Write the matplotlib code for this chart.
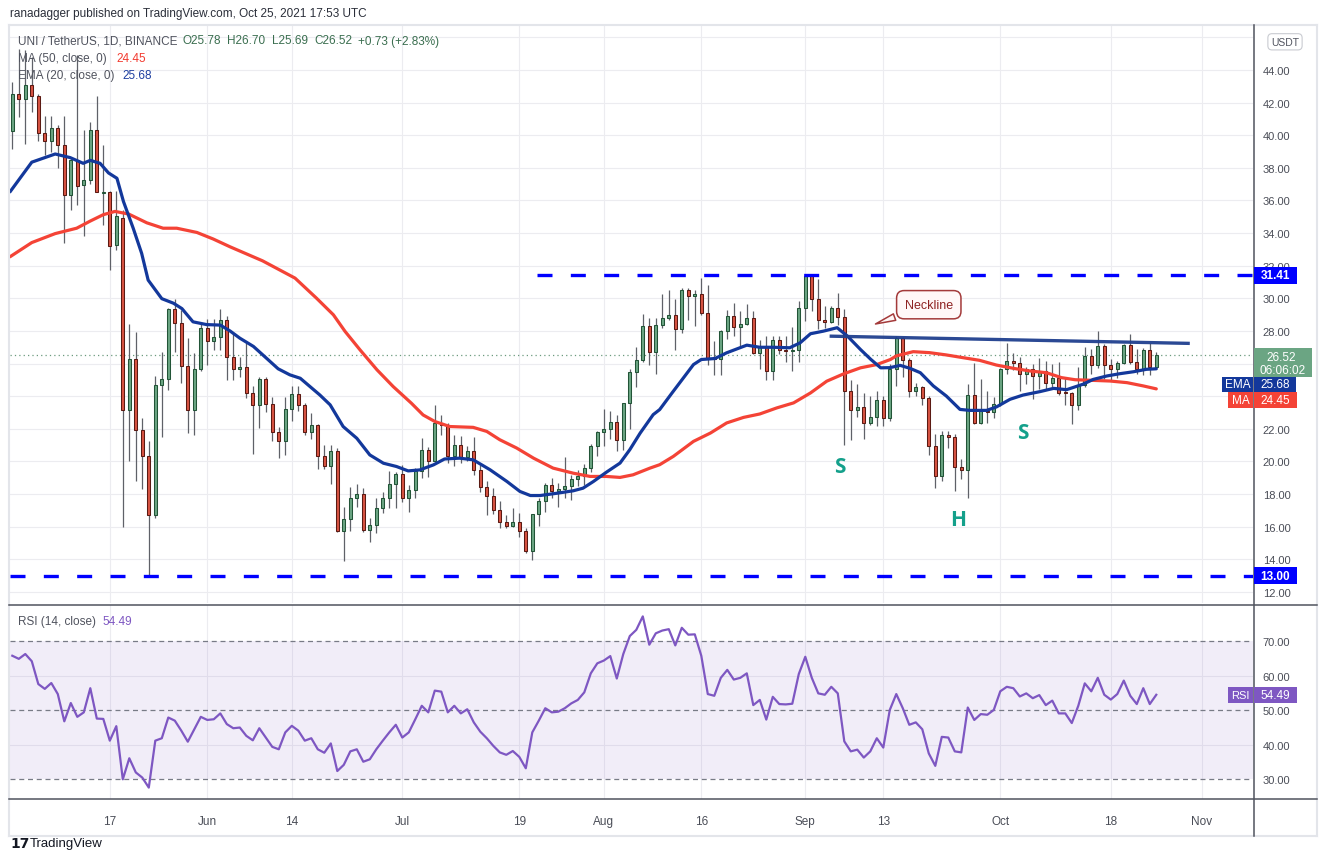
import matplotlib
matplotlib.use("Agg")
import matplotlib.pyplot as plt
import numpy as np
import pandas as pd
from matplotlib.patches import Rectangle
from matplotlib.lines import Line2D

plt.rcParams['font.family'] = ['Liberation Sans', 'DejaVu Sans']

# ---------------- data ----------------
start = pd.Timestamp('2021-05-02')
opens = [40.28, 42.55, 42.25, 43.06, 42.40, 40.14, 39.66, 40.47, 39.38, 36.36, 38.46, 36.95, 37.28, 40.34, 36.48, 36.53,
         33.25, 34.95, 23.13, 26.30, 21.95, 20.33, 16.72, 24.66, 25.06, 29.37, 28.50, 25.87, 23.17, 25.69,
         28.21, 27.40, 27.60, 28.65, 26.43, 25.64, 25.82, 24.22, 23.43, 25.08, 23.55, 21.83, 21.26, 23.24,
         24.16, 23.43, 21.83, 22.22, 20.36, 19.75, 20.67, 15.76, 16.45, 17.78, 18.03, 15.80, 16.10, 17.13,
         17.74, 18.64, 19.26, 17.78, 18.23, 19.42, 20.71, 20.05, 22.38, 22.24, 20.36, 20.98, 20.25, 20.66,
         19.49, 18.46, 17.89, 17.03, 16.31, 16.07, 16.31, 15.76, 14.51, 16.76, 17.60, 18.57, 18.20, 18.28,
         18.52, 18.91, 19.08, 19.59, 20.92, 21.80, 21.99, 22.42, 21.33, 23.59, 25.47, 26.21, 28.30, 26.70,
         28.36, 28.81, 28.98, 28.14, 30.49, 30.14, 30.29, 29.08, 26.35, 26.31, 27.99, 28.91, 28.24, 28.40,
         28.77, 26.62, 27.05, 25.53, 27.44, 26.82, 26.76, 26.82, 29.39, 31.37, 29.94, 28.67, 28.55, 29.39,
         28.85, 24.30, 23.14, 23.32, 22.34, 22.70, 23.75, 22.64, 25.69, 27.55, 26.20, 24.32, 24.56, 23.87,
         20.94, 19.08, 21.62, 21.50, 19.66, 19.45, 24.07, 22.38, 23.09, 23.03, 23.50, 25.65, 26.16, 26.04,
         25.38, 25.65, 25.24, 25.55, 24.83, 25.10, 24.22, 24.20, 23.46, 24.67, 26.47, 25.91, 27.08, 25.91,
         25.65, 26.06, 27.14, 26.10, 25.65, 26.83, 25.78]
highs = [43.27, 45.30, 45.20, 44.80, 42.51, 41.20, 41.20, 40.65, 41.20, 38.57, 44.90, 40.32, 40.82, 42.40, 39.38, 36.60,
         36.60, 35.39, 28.45, 27.95, 22.69, 21.27, 25.21, 26.70, 29.40, 29.98, 29.26, 27.55, 26.63, 28.50,
         28.71, 28.71, 29.37, 28.90, 27.87, 26.43, 27.35, 24.65, 25.20, 25.20, 23.98, 22.10, 23.98, 24.65,
         24.65, 23.57, 22.96, 22.30, 21.00, 21.00, 20.85, 17.19, 18.46, 18.60, 18.36, 16.52, 17.74, 18.15,
         19.42, 19.38, 19.79, 18.56, 19.58, 21.46, 20.91, 23.43, 22.85, 22.34, 21.64, 21.54, 20.92, 21.48,
         19.80, 18.77, 18.40, 17.60, 16.72, 17.17, 16.82, 15.94, 16.80, 17.75, 18.67, 18.98, 18.67, 20.30,
         19.18, 19.49, 19.84, 21.07, 21.84, 23.22, 23.07, 22.87, 23.60, 25.64, 27.03, 29.02, 28.77, 28.81,
         30.25, 30.49, 29.94, 30.66, 30.61, 30.49, 31.27, 30.82, 27.38, 28.03, 29.26, 29.73, 29.22, 29.67,
         29.22, 27.42, 27.68, 27.68, 27.68, 27.68, 28.24, 29.84, 31.48, 31.42, 31.17, 29.53, 29.53, 30.35,
         29.32, 24.98, 24.75, 24.20, 24.00, 24.30, 24.00, 25.98, 27.69, 27.63, 26.36, 24.83, 24.63, 24.01,
         21.70, 21.87, 21.87, 21.66, 20.13, 24.77, 26.06, 25.03, 24.32, 23.95, 25.75, 27.28, 26.67, 26.40,
         25.79, 25.96, 26.36, 26.16, 25.96, 26.12, 25.14, 24.25, 25.79, 27.02, 26.88, 28.00, 27.20, 26.26,
         26.16, 27.18, 27.80, 26.88, 26.98, 27.28, 26.70]
lows = [39.16, 41.09, 39.44, 41.41, 39.66, 38.79, 39.00, 38.02, 33.42, 35.39, 35.72, 33.85, 37.00, 36.49, 34.52, 31.74,
        32.94, 16.01, 20.00, 18.82, 18.31, 13.00, 16.52, 21.49, 24.40, 26.74, 24.82, 21.75, 21.64, 25.54,
        25.93, 26.85, 26.85, 24.99, 25.00, 25.20, 23.92, 20.46, 22.04, 23.02, 21.26, 20.24, 20.40, 22.49,
        23.10, 21.63, 21.38, 19.54, 19.54, 18.62, 15.70, 13.90, 15.76, 17.23, 15.70, 15.08, 15.60, 16.82,
        17.13, 17.13, 17.54, 16.92, 17.78, 18.97, 19.07, 20.03, 21.63, 19.89, 19.75, 19.90, 20.00, 19.18,
        18.11, 16.72, 16.76, 15.90, 15.94, 16.00, 15.39, 14.41, 13.96, 16.07, 16.89, 17.75, 17.23, 17.75,
        17.64, 18.52, 18.57, 19.34, 20.31, 20.92, 21.39, 20.61, 20.72, 22.00, 24.55, 26.10, 25.94, 25.37,
        28.16, 28.70, 26.86, 27.85, 28.67, 28.30, 28.98, 25.94, 25.33, 25.29, 27.48, 27.68, 27.07, 28.36,
        26.60, 25.64, 25.02, 25.02, 26.60, 26.10, 25.53, 26.10, 28.60, 29.22, 28.10, 28.16, 28.50, 28.36,
        20.98, 21.33, 22.70, 21.39, 22.21, 22.15, 22.15, 22.48, 24.63, 25.18, 23.95, 24.01, 23.46, 20.39,
        18.35, 18.80, 20.84, 18.18, 18.90, 17.78, 22.27, 22.31, 22.38, 22.64, 23.40, 25.34, 25.59, 24.32,
        24.73, 23.81, 24.42, 24.42, 24.52, 24.07, 23.46, 22.27, 23.13, 24.56, 25.34, 25.75, 25.03, 24.93,
        25.14, 25.96, 25.96, 25.34, 25.30, 25.30, 25.69]
closes = [42.55, 42.25, 43.06, 42.40, 40.14, 39.66, 40.47, 39.38, 36.36, 38.46, 36.86, 37.28, 40.34, 36.53, 36.53, 33.20,
          35.02, 23.17, 26.30, 21.95, 20.33, 16.72, 24.66, 25.06, 29.37, 28.50, 25.87, 23.17, 25.69, 28.21,
          27.40, 27.60, 28.65, 26.43, 25.64, 25.82, 24.22, 23.43, 25.08, 23.55, 21.83, 21.26, 23.24, 24.16,
          23.43, 21.83, 22.22, 20.36, 19.75, 20.67, 15.76, 16.45, 17.78, 18.03, 15.80, 16.10, 17.13, 17.74,
          18.64, 19.26, 17.78, 18.23, 19.42, 20.71, 20.05, 22.38, 22.24, 20.36, 20.98, 20.25, 20.66, 19.49,
          18.46, 17.89, 17.03, 16.31, 16.07, 16.31, 15.76, 14.51, 16.76, 17.60, 18.57, 18.20, 18.28, 18.52,
          18.91, 19.08, 19.59, 20.92, 21.80, 21.99, 22.42, 21.33, 23.59, 25.47, 26.21, 28.30, 26.70, 28.36,
          28.81, 28.98, 28.14, 30.49, 30.14, 30.29, 29.08, 26.35, 26.31, 27.99, 28.91, 28.24, 28.40, 28.77,
          26.62, 27.05, 25.53, 27.44, 26.82, 26.76, 26.82, 29.39, 31.37, 29.94, 28.67, 28.55, 29.39, 28.85,
          24.30, 23.14, 23.32, 22.34, 22.70, 23.75, 22.64, 25.69, 27.55, 26.20, 24.32, 24.56, 23.87, 20.94,
          19.08, 21.62, 21.50, 19.66, 19.45, 24.07, 22.38, 23.09, 23.03, 23.50, 25.65, 26.16, 26.04, 25.38,
          25.65, 25.24, 25.55, 24.83, 25.10, 24.22, 24.17, 23.46, 24.67, 26.47, 25.91, 27.08, 25.91, 25.65,
          26.06, 27.14, 26.10, 25.65, 26.83, 25.81, 26.52]

rsi_vals = [65.8, 64.9, 66.3, 64.2, 57.6, 56.2, 57.9, 54.7, 46.8, 52.1, 48.1, 49.4, 56.4, 47.6, 47.5, 41.2,
            45.4, 30.0, 36.1, 32.0, 30.5, 27.6, 41.2, 41.9, 47.9, 47.0, 44.1, 40.9, 44.5, 48.1,
            47.2, 47.4, 49.1, 46.0, 44.8, 45.0, 42.6, 41.3, 44.8, 42.1, 39.4, 38.7, 43.6, 45.5,
            44.1, 41.2, 41.9, 38.7, 37.7, 40.4, 32.4, 34.2, 38.1, 38.7, 35.1, 35.8, 38.7, 41.2,
            43.6, 45.8, 42.1, 43.6, 47.4, 51.3, 49.4, 55.7, 55.4, 49.4, 51.3, 49.1, 50.3, 46.5,
            43.8, 41.9, 39.7, 37.8, 37.1, 38.2, 36.5, 33.2, 43.6, 47.0, 50.6, 49.4, 49.6, 50.6,
            52.0, 53.0, 55.2, 60.7, 63.6, 64.4, 65.7, 59.2, 66.3, 71.5, 73.3, 77.2, 69.0, 72.3,
            73.1, 73.5, 68.8, 73.9, 71.9, 72.0, 65.8, 54.7, 54.2, 59.4, 61.7, 58.9, 59.4, 60.7,
            51.5, 53.0, 47.3, 53.9, 51.8, 51.7, 51.9, 60.5, 65.5, 59.4, 54.9, 54.5, 56.8, 54.9,
            41.0, 38.1, 38.6, 36.3, 38.1, 41.9, 39.2, 50.1, 54.7, 50.6, 45.8, 46.5, 44.5, 37.5,
            33.9, 42.3, 42.1, 38.1, 37.8, 50.8, 47.2, 48.9, 48.7, 50.1, 55.5, 56.8, 56.4, 54.0,
            54.9, 53.5, 54.4, 51.5, 52.8, 49.1, 49.1, 46.3, 51.3, 57.8, 55.5, 59.4, 54.5, 53.1,
            54.7, 58.6, 54.2, 51.8, 56.4, 51.8, 54.49]

# EMA 20 and MA 50 (day offset from 2 May 2021, value)
ema_days = [-0.35, 3.0, 6.6, 8.9, 10.9, 12.0, 13.5, 14.8, 16.1, 17.1, 18.6, 19.9, 20.9, 23.0, 24.8, 26.1, 27.8,
            29.9, 32.0, 33.5, 35.0, 37.1, 39.1, 40.9, 42.7, 44.3, 45.8, 47.3, 48.9, 50.9, 53.0, 55.0, 57.1,
            59.1, 60.9, 62.7, 64.8, 66.5, 68.8, 70.9, 73.5, 76.1, 78.1, 79.7, 81.2, 83.8, 86.3, 87.8, 89.4,
            91.4, 93.5, 95.0, 96.6, 98.6, 99.6, 101.5, 104.8, 106.0, 108.1, 109.9, 113.0, 115.0, 117.1,
            119.6, 121.2, 122.8, 124.8, 126.9, 128.5, 130.5, 132.1, 133.6, 135.0, 136.6, 138.1, 139.7,
            141.7, 143.7, 145.8, 147.3, 149.9, 151.4, 153.5, 155.5, 158.1, 160.2, 162.2, 164.7, 166.3,
            168.4, 170.4, 172.5, 174.5, 176.0]
ema_vals = [36.53, 38.35, 38.85, 38.63, 38.28, 38.46, 38.28, 37.69, 37.36, 35.94, 34.30, 32.76, 31.12, 29.98, 29.70,
            29.37, 28.56, 28.39, 28.36, 28.00, 27.56, 27.05, 26.33, 25.68, 25.31, 25.10, 24.59, 24.08, 23.47,
            22.14, 21.42, 20.40, 19.89, 19.69, 19.42, 19.48, 19.79, 20.15, 20.20, 20.10, 19.49, 18.77, 18.16,
            17.91, 17.91, 18.05, 18.20, 18.36, 18.77, 19.34, 19.90, 20.72, 21.74, 22.87, 23.18, 24.20, 25.94,
            26.25, 26.31, 26.66, 27.13, 27.00, 27.00, 26.97, 27.27, 27.83, 27.99, 28.20, 27.68, 26.86, 26.25,
            25.74, 25.75, 25.89, 25.71, 25.44, 24.63, 24.01, 23.19, 23.13, 23.13, 23.34, 23.81, 24.07, 24.28,
            24.48, 24.40, 24.73, 25.03, 25.24, 25.38, 25.50, 25.65, 25.68]
ma_days = [-0.35, 3.0, 6.6, 9.9, 12.0, 14.0, 15.8, 17.9, 20.7, 23.2, 25.3, 28.4, 30.9, 33.5, 38.5, 43.5, 46.8,
           49.4, 51.2, 53.5, 56.1, 58.6, 61.4, 63.2, 65.0, 67.3, 70.9, 73.0, 75.0, 77.6, 80.2, 83.2, 86.3,
           88.9, 91.4, 93.5, 95.5, 98.1, 99.6, 101.7, 104.8, 107.4, 109.9, 112.5, 115.0, 117.6, 120.2,
           122.8, 125.3, 127.9, 130.5, 133.0, 135.1, 136.0, 138.6, 141.1, 143.7, 146.3, 148.8, 151.4,
           154.0, 156.5, 159.1, 161.4, 163.5, 166.3, 168.9, 171.5, 174.0, 176.0]
ma_vals = [32.55, 33.42, 33.97, 34.30, 34.74, 35.13, 35.33, 35.17, 34.63, 34.30, 34.30, 34.04, 33.64, 33.16, 32.30,
           31.24, 30.01, 28.99, 27.97, 26.84, 25.62, 24.59, 23.57, 22.85, 22.45, 22.14, 22.09, 21.84, 21.33,
           20.82, 20.20, 19.59, 19.28, 19.08, 19.08, 19.02, 19.18, 19.59, 19.80, 20.31, 21.23, 21.74, 22.36,
           22.70, 22.91, 23.28, 23.59, 24.20, 24.92, 25.37, 25.74, 25.94, 26.25, 26.47, 26.73, 26.67, 26.53,
           26.36, 26.20, 25.91, 25.71, 25.55, 25.44, 25.14, 25.01, 24.97, 24.93, 24.83, 24.63, 24.45]

neck_days = [126.0, 180.9]
neck_vals = [27.68, 27.24]
resist_level, resist_start = 31.41, 80.8
support_level = 13.00
last_price, ema_last, ma_last, rsi_last = 26.52, 25.68, 24.45, 54.49

tick_dates = ['2021-05-17', '2021-06-01', '2021-06-14', '2021-07-01', '2021-07-19', '2021-08-01',
              '2021-08-16', '2021-09-01', '2021-09-13', '2021-10-01', '2021-10-18', '2021-11-01']
tick_labels = ['17', 'Jun', '14', 'Jul', '19', 'Aug', '16', 'Sep', '13', 'Oct', '18', 'Nov']
price_ticks = list(range(12, 47, 2))
hidden_price_labels = [24, 26, 46]   # covered by the value boxes on the price scale
rsi_ticks = [30, 40, 50, 60, 70]

pattern_labels = ['S', 'H', 'S']
pattern_days = [127.3, 145.5, 155.5]
pattern_vals = [19.72, 16.41, 21.80]

# ---------------- figure ----------------
W, H = 1326, 862
fig = plt.figure(figsize=(W / 100, H / 100), dpi=100)
fig.patch.set_facecolor('white')

def fx(px):
    return px / W

def fy(py):
    return 1 - py / H

ax = fig.add_axes([fx(10), fy(604), fx(1253) - fx(10), fy(26) - fy(604)])
rax = fig.add_axes([fx(10), fy(800), fx(1253) - fx(10), fy(606) - fy(800)])

GRID = '#ececf0'
AXC = '#4a4d57'
x = np.arange(len(closes))
o, h, l, c = map(np.asarray, (opens, highs, lows, closes))
tick_pos = [(pd.Timestamp(d) - start).days for d in tick_dates]

for a in (ax, rax):
    a.set_xlim(-0.354, 190.88)
    a.set_xticks(tick_pos)
    for s in a.spines.values():
        s.set_visible(False)
    a.set_facecolor('white')
    a.yaxis.tick_right()
    a.tick_params(axis='y', length=0, pad=7, labelsize=8, labelcolor=AXC)
    a.tick_params(axis='x', length=0)

# ---- main pane ----
ax.set_ylim(11.32, 46.76)
ax.set_yticks(price_ticks)
ax.set_yticklabels(['' if v in hidden_price_labels else f'{v:.2f}' for v in price_ticks])
ax.set_xticklabels([])
ax.grid(True, color=GRID, lw=0.8, zorder=0)
ax.set_axisbelow(True)

up = c >= o
bot = np.minimum(o, c)
hgt = np.maximum(np.abs(c - o), 0.07)
ax.vlines(x, l, h, color='#5f6168', lw=0.9, zorder=3)
ax.bar(x[up], hgt[up], bottom=bot[up], width=0.52, color='#6ba583', edgecolor='#225437', linewidth=0.75, zorder=4)
ax.bar(x[~up], hgt[~up], bottom=bot[~up], width=0.52, color='#d75442', edgecolor='#5b1a13', linewidth=0.75, zorder=4)

ax.plot(ma_days, ma_vals, color='#f44336', lw=2.3, zorder=5, solid_capstyle='round')
ax.plot(ema_days, ema_vals, color='#13389b', lw=2.3, zorder=5, solid_capstyle='round')

ax.axhline(last_price, color='#6b9a7e', lw=0.9, ls=(0, (1, 2.5)), zorder=2)
ax.plot([resist_start, 190.88], [resist_level, resist_level], color='#0000ff', lw=2.4,
        dashes=(4.5, 5.5), zorder=6, dash_capstyle='butt')
ax.plot([-0.354, 190.88], [support_level, support_level], color='#0000ff', lw=2.4,
        dashes=(4.5, 5.5), zorder=6, dash_capstyle='butt')
ax.plot(neck_days, neck_vals, color='#1f3f8e', lw=2.4, zorder=6, alpha=0.95)

for t, d, v in zip(pattern_labels, pattern_days, pattern_vals):
    ax.text(d, v, t, color='#14a08b', fontsize=15, fontweight='bold', ha='center', va='center',
            family=['Open Sans', 'DejaVu Sans'], zorder=7)

ax.annotate('Neckline', xy=(132.4, 28.37), xytext=(141.0, 29.61), ha='center', va='center',
            fontsize=9, color='#8e2222', zorder=8,
            bbox=dict(boxstyle='round,pad=0.65,rounding_size=0.6', fc='#fff7f7', ec='#a33a3a', lw=1.1),
            arrowprops=dict(arrowstyle='wedge,tail_width=0.55,shrink_factor=0.5', fc='#fff7f7',
                            ec='#a33a3a', lw=1.1))

# ---- RSI pane ----
rax.set_ylim(24.3, 80.5)
rax.set_yticks(rsi_ticks)
rax.set_yticklabels([f'{v:.2f}' for v in rsi_ticks])
rax.set_xticklabels(tick_labels)
rax.tick_params(axis='x', pad=11.5, labelsize=8.5, labelcolor=AXC)
rax.grid(True, axis='x', color=GRID, lw=0.8)
rax.set_axisbelow(True)
for lv in (40, 60):
    rax.axhline(lv, color=GRID, lw=0.8, zorder=0.5)
rax.axhspan(30, 70, color='#7e57c2', alpha=0.1, lw=0, zorder=0.6)
for lv in (30, 50, 70):
    rax.axhline(lv, color='#787b86', lw=0.9, ls=(0, (4, 3)), zorder=1)
rax.plot(x, rsi_vals, color='#7e57c2', lw=1.6, zorder=3)

# ---- frame lines ----
def fline(x0, y0, x1, y1, color, lw):
    fig.add_artist(Line2D([fx(x0), fx(x1)], [fy(y0), fy(y1)], transform=fig.transFigure,
                          color=color, lw=lw, zorder=4))

fline(9, 26, 1317, 26, '#e3e5ea', 1.5)
fline(9, 26, 9, 837, '#e3e5ea', 1.5)
fline(1317, 26, 1317, 837, '#e3e5ea', 1.5)
fline(9, 837, 1317, 837, '#e3e5ea', 1.5)
fline(1253.5, 26, 1253.5, 837, '#50535e', 1.1)
fline(9, 605.5, 1317, 605.5, '#50535e', 1.1)
fline(9, 800, 1317, 800, '#50535e', 1.1)

# ---- right-hand value labels ----
def ybox(axx, val):
    return axx.transData.transform((0, val))[1]

def rbox(axx, val, x0, x1, hh, fc, dy=0.0, z=10):
    yc = ybox(axx, val) + dy
    fig.add_artist(Rectangle((x0 / W, (yc - hh / 2) / H), (x1 - x0) / W, hh / H, transform=fig.transFigure,
                             facecolor=fc, edgecolor='none', zorder=z))
    return yc

def rtext(xc, yc, s, color='white', fs=8, weight='normal', z=11):
    fig.text(xc / W, yc / H, s, ha='center', va='center', color=color, fontsize=fs, fontweight=weight, zorder=z)

yc = rbox(ax, resist_level, 1254, 1297, 16.5, '#0000ff')
rtext(1275.5, yc, f'{resist_level:.2f}', weight='bold', fs=8.5)
yc = rbox(ax, support_level, 1254, 1297, 16.5, '#0000ff')
rtext(1275.5, yc, f'{support_level:.2f}', weight='bold', fs=8.5)

yc = rbox(ax, last_price, 1254, 1312, 29, '#6ba583', dy=-7)
rtext(1281, yc + 5.5, f'{last_price:.2f}', fs=8.5)
rtext(1283, yc - 7.5, '06:06:02', fs=8.5)

yc = rbox(ax, ema_last, 1222, 1253, 15.5, '#13389b', dy=-15.7)
rtext(1237.5, yc, 'EMA', fs=8.5)
rbox(ax, ema_last, 1254, 1296, 15.5, '#13389b', dy=-15.7)
rtext(1275, yc, f'{ema_last:.2f}', fs=8.5)

yc = rbox(ax, ma_last, 1228, 1253, 15.5, '#f44336', dy=-11.1)
rtext(1240.5, yc, 'MA', fs=8.5)
rbox(ax, ma_last, 1254, 1297, 15.5, '#f44336', dy=-11.1)
rtext(1275.5, yc, f'{ma_last:.2f}', fs=8.5)

yc = rbox(rax, rsi_last, 1228, 1252.5, 16, '#7e57c2')
rtext(1240.5, yc, 'RSI', fs=8)
rbox(rax, rsi_last, 1253.5, 1297, 16, '#7e57c2')
rtext(1275.5, yc, f'{rsi_last:.2f}', fs=8.5)

fig.text(fx(1285), fy(42.8), 'USDT', ha='center', va='center', fontsize=7.5, color='#50535e', zorder=12,
         bbox=dict(boxstyle='round,pad=0.3,rounding_size=0.4', fc='white', ec='#c9cbd1', lw=0.8))

# ---- header texts ----
TXT = '#50535e'
HF = 8.5
fig.text(fx(10), fy(14.5), 'ranadagger published on TradingView.com, Oct 25, 2021 17:53 UTC',
         fontsize=HF, color='#2a2e39', va='center', ha='left')
fig.text(fx(18), fy(41.5), 'UNI / TetherUS, 1D, BINANCE', fontsize=HF, color=TXT, va='center', zorder=12)
GRN = '#3a6e4f'
for xp, s in [(182, 'O25.78'), (227, 'H26.70'), (272, 'L25.69'), (314, 'C26.52'), (358, '+0.73 (+2.83%)')]:
    fig.text(fx(xp), fy(41.5), s, fontsize=HF, color=GRN, va='center', zorder=12)
fig.text(fx(18), fy(59), 'MA (50, close, 0)', fontsize=HF, color=TXT, va='center', zorder=12)
fig.text(fx(116), fy(59), f'{ma_last:.2f}', fontsize=HF, color='#f23b30', va='center', zorder=12)
fig.text(fx(18), fy(76), 'EMA (20, close, 0)', fontsize=HF, color=TXT, va='center', zorder=12)
fig.text(fx(122), fy(76), f'{ema_last:.2f}', fontsize=HF, color='#1e3fa0', va='center', zorder=12)
fig.text(fx(18), fy(622.5), 'RSI (14, close)', fontsize=HF, color=TXT, va='center', zorder=12)
fig.text(fx(102), fy(622.5), f'{rsi_last:.2f}', fontsize=HF, color='#7e57c2', va='center', zorder=12)

fig.text(fx(10), fy(844), '17', fontsize=10, fontweight='heavy', color='#131722', va='center',
         family=['DejaVu Sans'])
fig.text(fx(30), fy(844), 'TradingView', fontsize=9.5, color='#131722', va='center')

fig.savefig('out.png', dpi=100, facecolor='white')
